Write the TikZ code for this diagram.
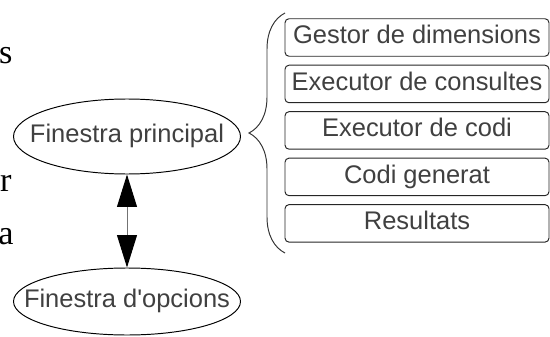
\documentclass[tikz,border=0pt]{standalone}
\usepackage{fontspec}
\setmainfont{Liberation Sans}
\newfontfamily\bodyserif{Liberation Serif}
\usepackage{tikz}
\usetikzlibrary{arrows.meta, positioning, shapes.geometric, decorations.pathreplacing}
\definecolor{boxtext}{gray}{0.25}

\begin{document}
\begin{tikzpicture}[
    font=\fontsize{14.5}{17}\selectfont,
    line width=0.55pt,
    >={Triangle[length=0.65cm, width=0.4cm, color=black]},
    every label/.style={text=boxtext, inner sep=0pt, text height=0.72em, text depth=0pt},
    win/.style={draw, ellipse, minimum width=4.54cm, minimum height=1.5cm, inner sep=0pt},
    part/.style={draw=black!85, rounded corners=0.08cm, minimum width=5.28cm, minimum height=0.75cm,
                 inner sep=0pt, text=boxtext, text height=0.72em, text depth=0pt},
    cutword/.style={anchor=base east, inner sep=0pt, font=\bodyserif\fontsize{19.5}{22}\selectfont}
  ]
      % Frame
      \useasboundingbox (0,0) rectangle (11,6.72);

      % Ends of the words cut off on the left
      \node[cutword] (frags) at (0.26,5.44) {s};
      \node[cutword] (frager) at (0.24,2.90) {er};
      \node[cutword] (fraga) at (0.28,1.84) {a};

      % Windows
      \node[win, label=center:{Finestra principal}] (princ) at (2.54,3.99) {};
      \node[win, minimum height=1.34cm, label=center:{Finestra d\textquotesingle opcions}] (opc) at (2.54,0.69) {};

      % Link between the windows
      \draw[<->, black!55] (princ) -- (opc);

      % Parts of the main window
      \node[part] (gestor) at (8.34,5.97) {Gestor de dimensions};
      \node[part, below=0.16cm of gestor] (consultes) {Executor de consultes};
      \node[part, below=0.16cm of consultes] (codi) {Executor de codi};
      \node[part, below=0.16cm of codi] (generat) {Codi generat};
      \node[part, below=0.16cm of generat] (resultats) {Resultats};

      % Brace round the parts
      \coordinate (braceBot) at (5.7,1.66);
      \coordinate (braceTop) at (5.7,6.46);
      \draw[decorate, decoration={brace, amplitude=0.72cm}, black!80] (braceBot) -- (braceTop);
\end{tikzpicture}
\end{document}
